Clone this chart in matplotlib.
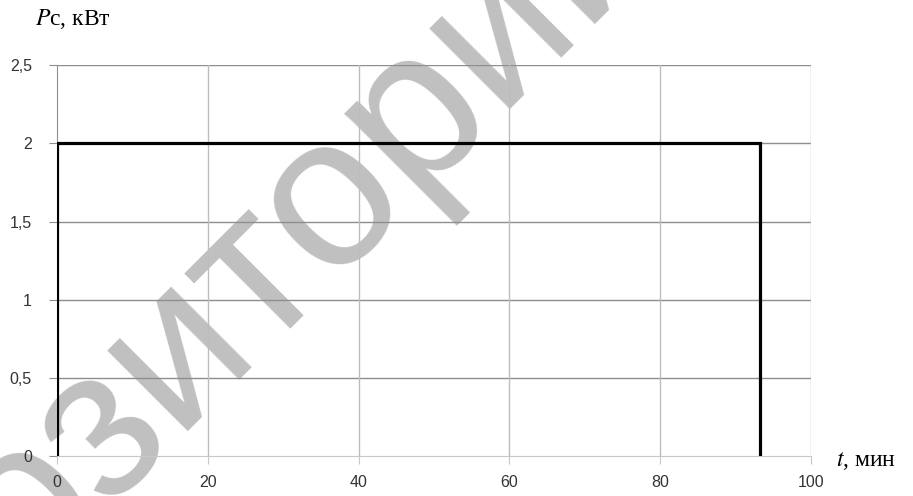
import matplotlib
matplotlib.use("Agg")
import matplotlib.pyplot as plt

# load profile: power switched on at t=0, off at ~93 min
t = [0, 0, 93.3, 93.3]
p = [0, 2, 2, 0]

xticks = [0, 20, 40, 60, 80, 100]
yticks = [0, 0.5, 1, 1.5, 2, 2.5]
ylabels = ["0", "0,5", "1", "1,5", "2", "2,5"]

fig = plt.figure(figsize=(9.13, 4.96), dpi=100)
ax = fig.add_axes([0.0624, 0.0806, 0.8258, 0.788])
ax.patch.set_alpha(0)

ax.set_xlim(0, 100)
ax.set_ylim(0, 2.5)
ax.set_xticks(xticks)
ax.set_yticks(yticks)
ax.set_yticklabels(ylabels)

for y in yticks[1:]:
    ax.axhline(y, color="#8e8e8e", lw=1.0, zorder=1)
for x in xticks[1:]:
    ax.axvline(x, color="#bdbdbd", lw=1.0, zorder=1)

for s in ["top", "right"]:
    ax.spines[s].set_visible(False)
ax.spines["left"].set_color("#8e8e8e")
ax.spines["bottom"].set_color("#c8c8c8")
ax.tick_params(axis="y", length=6, color="#8e8e8e", labelsize=11.5,
               labelcolor="#333333", pad=12)
ax.tick_params(axis="x", length=6, color="#c8c8c8", labelsize=11.5,
               labelcolor="#333333", pad=8)
for lab in ax.get_xticklabels() + ax.get_yticklabels():
    lab.set_family("Liberation Sans")

ax.plot(t, p, color="black", lw=2.3, zorder=4, solid_joinstyle="miter")

# axis captions
fig.text(0.038, 0.962, "$P$с, кВт", family="Liberation Serif", fontsize=17,
         va="center", ha="left", math_fontfamily="stix")
fig.text(0.916, 0.07, "$t$, мин", family="Liberation Serif", fontsize=17,
         va="center", ha="left", math_fontfamily="stix")

# watermark behind the grid
fig.text(0.188, 0.295, "Репозиторий", family="Liberation Sans",
         fontsize=155, color="#c0c0c0", rotation=45, rotation_mode="anchor",
         ha="center", va="center", zorder=-1)

fig.savefig("out.png", dpi=100)
